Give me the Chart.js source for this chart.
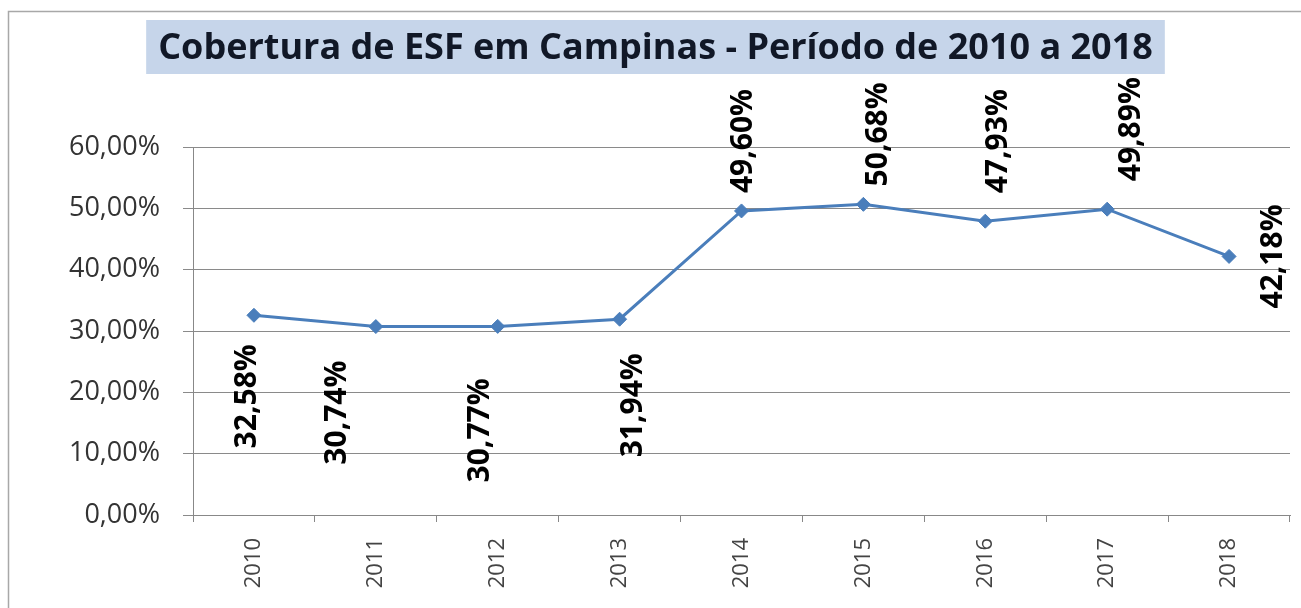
<!DOCTYPE html>
<html>
<head>
<meta charset="utf-8">
<script src="https://cdn.jsdelivr.net/npm/chart.js@4"></script>
<style>
  html, body { margin: 0; padding: 0; background: #fff; }
  #wrap { width: 1301px; height: 608px; }
</style>
</head>
<body>
<div id="wrap"><canvas id="chart" width="1301" height="608"></canvas></div>
<script>
// --- Dados ---
const anos = ['2010', '2011', '2012', '2013', '2014', '2015', '2016', '2017', '2018'];
const cobertura = [32.58, 30.74, 30.77, 31.94, 49.60, 50.68, 47.93, 49.89, 42.18];
const yTicks = [0, 10, 20, 30, 40, 50, 60];
const titulo = 'Cobertura de ESF em Campinas - Período de 2010 a 2018';

// deslocamento (px) do centro de cada rótulo em relação ao ponto
const labelOffsets = [[-7, 81], [-39, 86], [-18, 104], [13, 86], [1, -70], [14, -70], [12, -80], [23, -80], [43, 0]];

const fmt = v => v.toFixed(2).replace('.', ',') + '%';
const TITLE_SIZE = 36;

// Caixa azul atrás do título + moldura externa
const tituloBox = {
    id: 'tituloBox',
    beforeDraw(chart) {
        const ctx = chart.ctx;
        ctx.save();
        ctx.fillStyle = '#fff';
        ctx.fillRect(0, 0, chart.width, chart.height);
        ctx.strokeStyle = '#a8a8a8';
        ctx.lineWidth = 1.5;
        ctx.strokeRect(8.5, 11.5, chart.width + 10, chart.height + 10);
        const t = chart.titleBlock;
        ctx.font = 'bold ' + TITLE_SIZE + 'px "Open Sans"';
        const w = ctx.measureText(titulo).width;
        const cx = (t.left + t.right) / 2;
        ctx.fillStyle = '#c6d5ea';
        ctx.fillRect(cx - w / 2 - 12, 20, w + 24, 54);
        ctx.restore();
    }
};

// Rótulos de dados rotacionados
const rotulos = {
    id: 'rotulos',
    afterDatasetsDraw(chart) {
        const ctx = chart.ctx;
        const meta = chart.getDatasetMeta(0);
        ctx.save();
        ctx.font = 'bold 30px "Open Sans"';
        ctx.fillStyle = '#000';
        ctx.textAlign = 'center';
        ctx.textBaseline = 'middle';
        meta.data.forEach((pt, i) => {
            const [dx, dy] = labelOffsets[i];
            ctx.save();
            ctx.translate(pt.x + dx, pt.y + dy);
            ctx.rotate(-Math.PI / 2);
            ctx.fillText(fmt(cobertura[i]), 0, 1);
            ctx.restore();
        });
        ctx.restore();
    }
};

new Chart(document.getElementById('chart'), {
    type: 'line',
    data: {
        labels: anos,
        datasets: [{
            data: cobertura,
            borderColor: '#4a7ebb',
            backgroundColor: '#4a7ebb',
            borderWidth: 3,
            pointStyle: 'rectRot',
            pointRadius: 7,
            pointBorderWidth: 1,
            tension: 0,
        }]
    },
    options: {
        responsive: false,
        animation: false,
        layout: { padding: { left: 21, right: 11, top: 0, bottom: 0 } },
        plugins: {
            legend: { display: false },
            tooltip: { enabled: false },
            title: {
                display: true,
                text: titulo,
                color: '#111827',
                font: { family: '"Open Sans"', size: TITLE_SIZE, weight: 'bold', lineHeight: 1.2 },
                padding: { top: 27, bottom: 77 }
            }
        },
        scales: {
            x: {
                offset: true,
                grid: { display: true, drawOnChartArea: false, offset: true, tickLength: 7, color: '#888' },
                border: { color: '#888' },
                ticks: {
                    minRotation: 90, maxRotation: 90, padding: 16,
                    color: '#444',
                    font: { family: '"Open Sans"', size: 22 }
                },
                afterFit(s) { s.height = 93; }
            },
            y: {
                min: 0, max: 60,
                afterBuildTicks(s) { s.ticks = yTicks.map(v => ({ value: v })); },
                grid: { color: '#8a8a8a', tickLength: 10 },
                border: { color: '#888' },
                ticks: {
                    padding: 23,
                    color: '#333',
                    font: { family: '"Open Sans"', size: 27 },
                    callback: v => fmt(v)
                },
                afterFit(s) { s.width = 172; }
            }
        }
    },
    plugins: [tituloBox, rotulos]
});
</script>
</body>
</html>
